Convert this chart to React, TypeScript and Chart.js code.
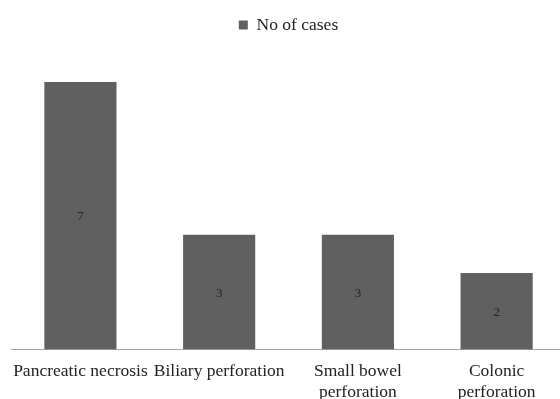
import React, { useEffect, useRef } from "react";
import { Chart, registerables } from "chart.js";

Chart.register(...registerables);

const categories: (string | string[])[] = [
  "Pancreatic necrosis",
  "Biliary perforation",
  ["Small bowel", "perforation"],
  ["Colonic", "perforation"],
];
const cases: number[] = [7, 3, 3, 2];
const seriesName = "No of cases";

const FONT = "'Liberation Serif', 'Times New Roman', serif";

const valueLabels = {
  id: "valueLabels",
  afterDatasetsDraw(chart: any) {
    const ctx = chart.ctx;
    const meta = chart.getDatasetMeta(0);
    ctx.save();
    ctx.font = `13px ${FONT}`;
    ctx.fillStyle = "#222222";
    ctx.textAlign = "center";
    ctx.textBaseline = "middle";
    meta.data.forEach((bar: any, i: number) => {
      const { x, y, base } = bar.getProps(["x", "y", "base"], true);
      ctx.fillText(String(cases[i]), x, (y + base) / 2 + 1);
    });
    ctx.restore();
  },
};

export default function App() {
  const ref = useRef<HTMLCanvasElement>(null);
  useEffect(() => {
    document.body.style.margin = "0";
    document.body.style.overflow = "hidden";
    const chart = new Chart(ref.current!, {
      type: "bar",
      data: {
        labels: categories,
        datasets: [
          {
            label: seriesName,
            data: cases,
            backgroundColor: "#606060",
            borderWidth: 0,
            barPercentage: 0.52,
            categoryPercentage: 1,
          },
        ],
      },
      options: {
        responsive: false,
        animation: false,
        layout: { padding: { left: 11, right: 9, top: 2, bottom: 0 } },
        plugins: {
          legend: {
            display: true,
            position: "top",
            labels: {
              boxWidth: 9,
              boxHeight: 9,
              padding: 14.3,
              color: "#222222",
              font: { family: FONT, size: 17.5 },
            },
          },
          tooltip: { enabled: false },
        },
        scales: {
          x: {
            grid: { display: false, drawTicks: false, tickLength: 0 },
            border: { display: true, color: "#a6a6a6", width: 1 },
            ticks: {
              color: "#222222",
              font: { family: FONT, size: 17.5, lineHeight: 1.2 },
              padding: 11.75,
              maxRotation: 0,
              autoSkip: false,
            },
          },
          y: {
            display: false,
            min: 0,
            max: 8,
          },
        },
      },
      plugins: [valueLabels],
    });
    return () => chart.destroy();
  }, []);
  return (
    <div style={{ width: 560, height: 399, overflow: "hidden" }}>
      <canvas ref={ref} width={575} height={415} style={{ display: "block" }} />
    </div>
  );
}
